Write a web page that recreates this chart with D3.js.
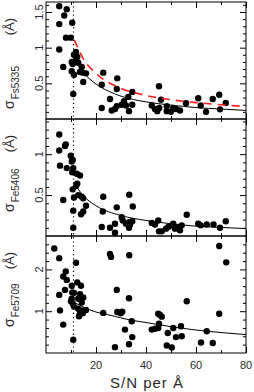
<!DOCTYPE html>
<html>
<head>
<meta charset="utf-8">
<script src="https://cdn.jsdelivr.net/npm/d3@7"></script>
<style>
  body { margin: 0; background: #fff; }
  text { font-family: "Liberation Sans", Arial, sans-serif; fill: #2a2a2a; }
</style>
</head>
<body>
<script>
// S/N and sigma values
const sn5335  = [5.3,8.3,7.3,5.3,10.5,8,9.9,5.3,6.9,10.3,10.7,10.3,11.2,10.9,12,11.2,12.5,12,12.9,14.3,13.6,14.7,16,14.9,
                 22.9,22.3,28.5,28.3,25.6,22.3,26.3,27.6,28.3,30.3,31.2,32,32.9,33.2,34.5,34.5,
                 42.3,43.6,44.5,45.3,45.2,46,48.3,48.3,49.9,50.9,52,53.6,56,60.9,61.9,64,66.7,69.3,69.6,71.9];
const sig5335 = [1.58,1.54,1.45,1.33,1.35,1.14,1.14,0.975,0.73,0.80,0.77,0.67,0.62,0.35,0.94,0.90,0.87,0.83,0.79,0.73,0.66,0.65,0.64,0.52,
                 0.65,0.48,0.57,0.42,0.28,0.155,0.12,0.14,0.18,0.20,0.25,0.19,0.31,0.11,0.20,0.38,
                 0.19,0.14,0.11,0.155,0.46,0.27,0.18,0.11,0.10,0.155,0.14,0.12,0.22,0.29,0.19,0.10,0.28,0.34,0.135,0.225];

const sn5406  = [5.3,5.3,7.6,7.9,5.6,8.3,6.9,9.9,10.3,10.7,10.9,10.5,12.3,13.6,12.5,12,10.7,11.2,12.9,14.3,14.9,16,14.9,14,10.9,10.9,
                 22.9,22.7,22.3,28.3,25.6,27.6,27.6,30.3,30.7,32,33.2,33.2,33.6,34.5,33.3,34.7,
                 42.3,43.6,44.9,45.2,46.3,48,48.9,50.3,50.9,51.6,52.9,53.6,54.3,56.3,60.9,61.9,64.3,67,69.6,71.9];
const sig5406 = [1.24,1.045,1.10,1.12,0.86,0.83,0.44,0.98,0.91,0.93,0.83,0.78,0.76,0.74,0.64,0.61,0.57,0.47,0.50,0.48,0.46,0.37,0.30,0.265,0.31,0.10,
                 0.48,0.30,0.11,0.35,0.10,0.15,0.04,0.23,0.19,0.15,0.17,0.10,0.14,0.18,0.505,0.36,
                 0.16,0.14,0.19,0.057,0.057,0.09,0.11,0.13,0.15,0.09,0.11,0.07,0.13,0.26,0.15,0.13,0.14,0.14,0.10,0.18];

const sn5709  = [3.3,5.3,5.3,5.6,6.9,6.9,7.9,8.3,7.6,10.3,10.5,11.2,10,10.3,10.7,11.2,12,12.5,14,13.6,12.9,14.9,14.3,12.9,13.6,13.2,14.9,16,14.7,10.9,
                 22.9,25.6,26,33.3,28.3,28.5,29.9,30.5,33.2,27.6,31.6,34.3,34.5,33.2,
                 42.3,43.6,44.9,45.2,44.9,46.3,45.6,48.7,48.3,50.3,50.9,52,54,54.3,56.3,62,64.3,66.7,69.3,69.3,72.1];
const sig5709 = [2.5,2.27,1.39,1.02,0.68,1.83,1.95,1.75,1.51,1.61,1.45,1.44,1.24,1.30,1.18,1.11,2.16,1.69,1.61,1.41,1.30,1.33,1.21,1.06,0.94,0.88,1.02,1.03,0.95,0.32,
                 0.96,2.37,2.30,2.34,1.51,0.98,0.95,0.99,1.31,0.14,0.56,0.76,0.38,0.21,
                 0.56,0.58,0.60,0.70,0.94,0.87,0.91,0.48,0.18,0.13,0.60,0.38,0.64,0.40,1.24,0.25,0.52,0.24,0.94,2.56,2.17];

// fitted curves, points
const fit5335 = [[11,0.88],[13,0.74],[15,0.65],[20,0.49],[25,0.39],[30,0.32],[40,0.24],[50,0.195],[60,0.16],[70,0.14],[80,0.12]];
const red5335 = [[11.3,1.11],[15,0.84],[20,0.64],[30,0.43],[40,0.33],[50,0.27],[60,0.23],[70,0.2],[80,0.175]];
const fit5406 = [[11,0.66],[15,0.49],[20,0.37],[30,0.25],[40,0.19],[50,0.15],[60,0.12],[70,0.105],[80,0.09]];
const fit5709 = [[11.6,1.2],[15,1.1],[20,0.98],[26,0.9],[33.6,0.79],[40,0.73],[50,0.63],[60,0.55],[70,0.49],[80,0.44]];

const snCut = 11;
const xMajor = [20, 40, 60, 80];
const xMinor = [10, 30, 50, 70];

const panels = [
  {name: "Fs5335", sn: sn5335, sig: sig5335, fit: fit5335, red: red5335, max: 1.64, major: [0.5, 1, 1.5], step: 0.1},
  {name: "Fe5406", sn: sn5406, sig: sig5406, fit: fit5406, red: null,    max: 1.43, major: [0.5, 1],      step: 0.1},
  {name: "Fe5709", sn: sn5709, sig: sig5709, fit: fit5709, red: null,    max: 2.8,  major: [1, 2],        step: 0.2}
];
const tops = [2, 119, 236, 353];
const labelStart = [109, 212, 327];

const svg = d3.select("body").append("svg")
    .attr("width", 254)
    .attr("height", 392);

const x = d3.scaleLinear().domain([0, 80]).range([46, 246]);

panels.forEach((p, i) => {
  const top = tops[i], bottom = tops[i + 1];
  const y = d3.scaleLinear().domain([0, p.max]).range([bottom, top]);
  const g = svg.append("g");
  const yMinor = d3.range(p.step, p.max, p.step).filter(v => !p.major.some(m => Math.abs(m - v) < 1e-6));

  // ticks on all four sides, pointing inward
  const addAxis = (axis, tr) => {
    const a = g.append("g").attr("transform", tr).call(axis);
    a.select(".domain").remove();
    a.selectAll("line").attr("stroke", "#000");
  };
  addAxis(d3.axisLeft(y).tickValues(p.major).tickSize(-6).tickFormat(""), "translate(46,0)");
  addAxis(d3.axisLeft(y).tickValues(yMinor).tickSize(-3).tickFormat(""), "translate(46,0)");
  addAxis(d3.axisRight(y).tickValues(p.major).tickSize(-6).tickFormat(""), "translate(246,0)");
  addAxis(d3.axisRight(y).tickValues(yMinor).tickSize(-3).tickFormat(""), "translate(246,0)");
  addAxis(d3.axisBottom(x).tickValues(xMajor).tickSize(-6).tickFormat(""), `translate(0,${bottom})`);
  addAxis(d3.axisBottom(x).tickValues(xMinor).tickSize(-3).tickFormat(""), `translate(0,${bottom})`);
  addAxis(d3.axisTop(x).tickValues(xMajor).tickSize(-6).tickFormat(""), `translate(0,${top})`);
  addAxis(d3.axisTop(x).tickValues(xMinor).tickSize(-3).tickFormat(""), `translate(0,${top})`);

  g.append("rect")
      .attr("x", 46).attr("y", top)
      .attr("width", 200).attr("height", bottom - top)
      .attr("fill", "none").attr("stroke", "#000").attr("stroke-width", 1);

  // rotated y tick labels
  g.selectAll(".ylab").data(p.major).enter().append("text")
      .attr("transform", d => `translate(43,${y(d)}) rotate(-90)`)
      .attr("text-anchor", "middle")
      .attr("font-size", "11px")
      .text(d => d);

  // y axis title
  const t = g.append("text")
      .attr("transform", `translate(14,${labelStart[i]}) rotate(-90)`)
      .attr("font-size", "14px");
  t.append("tspan").text("σ");
  t.append("tspan").attr("font-size", "10px").attr("dy", 5).attr("dx", 1).text(p.name);
  g.append("text")
      .attr("transform", `translate(14,${top + 16}) rotate(-90)`)
      .attr("text-anchor", "end")
      .attr("font-size", "13px")
      .text("(Å)");

  // points
  g.selectAll(".dot").data(p.sn).enter().append("circle")
      .attr("cx", d => x(d))
      .attr("cy", (d, j) => y(p.sig[j]))
      .attr("r", 3.2)
      .attr("fill", "#000");

  const line = d3.line().x(d => x(d[0])).y(d => y(d[1])).curve(d3.curveMonotoneX);
  g.append("path").datum(p.fit)
      .attr("d", line)
      .attr("fill", "none").attr("stroke", "#000").attr("stroke-width", 1);
  if (p.red) {
    g.append("path").datum(p.red)
        .attr("d", line)
        .attr("fill", "none").attr("stroke", "#ff1a1a").attr("stroke-width", 1.6)
        .attr("stroke-dasharray", "8,6");
  }
});

// S/N cut, dotted across all panels
svg.append("line")
    .attr("x1", x(snCut)).attr("x2", x(snCut))
    .attr("y1", tops[0]).attr("y2", tops[3])
    .attr("stroke", "#000").attr("stroke-width", 1.2)
    .attr("stroke-dasharray", "1.2,3");

// x tick labels and title
svg.selectAll(".xlab").data(xMajor).enter().append("text")
    .attr("x", d => x(d)).attr("y", 369)
    .attr("text-anchor", "middle")
    .attr("font-size", "11px")
    .text(d => d);

svg.append("text")
    .attr("x", 147).attr("y", 388)
    .attr("text-anchor", "middle")
    .attr("font-size", "15px")
    .attr("letter-spacing", "1px")
    .text("S/N per Å");
</script>
</body>
</html>
